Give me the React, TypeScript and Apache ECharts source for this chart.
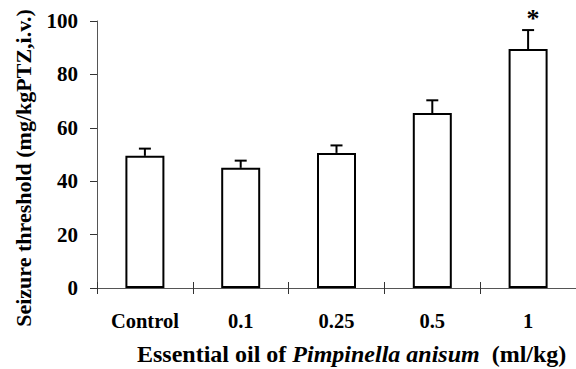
import React, { useEffect, useRef } from "react";
import * as echarts from "echarts";

const categories = ["Control", "0.1", "0.25", "0.5", "1"];
const means = [49.5, 45.0, 50.6, 65.5, 89.5];
const upperErrors = [52.2, 47.7, 53.4, 70.3, 96.6];
const significance = ["", "", "", "", "*"];
const yTicks = [0, 20, 40, 60, 80, 100];

const FONT = "'Liberation Serif', 'Times New Roman', serif";

export default function App() {
  const ref = useRef<HTMLDivElement>(null);
  useEffect(() => {
    if (!ref.current) return;
    const chart = echarts.init(ref.current, undefined, { renderer: "svg" });
    chart.setOption({
      animation: false,
      backgroundColor: "#ffffff",
      grid: { left: 97, top: 21, bottom: 81, width: 488, containLabel: false },
      xAxis: [
        {
          type: "category",
          data: categories,
          axisLine: { lineStyle: { color: "#555", width: 1 } },
          axisTick: { show: true, length: 6, lineStyle: { color: "#333" } },
          axisLabel: {
            color: "#000",
            fontFamily: FONT,
            fontWeight: "bold",
            fontSize: 20.5,
            margin: 22,
          },
        },
        {
          type: "category",
          data: categories,
          position: "bottom",
          axisLine: { show: false },
          axisTick: { show: true, inside: true, length: 6, lineStyle: { color: "#333" } },
          axisLabel: { show: false },
        },
      ],
      yAxis: {
        type: "value",
        min: yTicks[0],
        max: yTicks[yTicks.length - 1],
        interval: 20,
        splitLine: { show: false },
        axisLine: { show: true, lineStyle: { color: "#555", width: 1 } },
        axisTick: { show: true, length: 7, lineStyle: { color: "#333" } },
        axisLabel: {
          color: "#000",
          fontFamily: FONT,
          fontWeight: "bold",
          fontSize: 21,
          margin: 19,
        },
      },
      graphic: [
        {
          type: "text",
          x: 23,
          y: 168,
          rotation: Math.PI / 2,
          style: {
            text: "Seizure threshold (mg/kgPTZ,i.v.)",
            fontFamily: FONT,
            fontWeight: "bold",
            fontSize: 22,
            fill: "#000",
            align: "center",
            verticalAlign: "middle",
          },
        },
        {
          type: "text",
          left: 137,
          top: 342,
          style: {
            text: "{a|Essential oil of }{b|Pimpinella anisum}{a|  (ml/kg)}",
            rich: {
              a: { fontFamily: FONT, fontWeight: "bold", fontSize: 24, fill: "#000" },
              b: { fontFamily: FONT, fontWeight: "bold", fontStyle: "italic", fontSize: 24, fill: "#000" },
            },
          },
        },
      ],
      series: [
        {
          type: "bar",
          data: means,
          barWidth: 39,
          itemStyle: { color: "#ffffff", borderColor: "#000", borderWidth: 2 },
          z: 2,
        },
        {
          type: "custom",
          data: means.map((m, i) => [i, m, upperErrors[i]]),
          z: 3,
          renderItem: (params: any, api: any) => {
            const i = api.value(0);
            const top = api.coord([i, api.value(1)]);
            const up = api.coord([i, api.value(2)]);
            const children: any[] = [
              {
                type: "line",
                shape: { x1: top[0], y1: top[1], x2: up[0], y2: up[1] },
                style: { stroke: "#000", lineWidth: 2 },
              },
              {
                type: "line",
                shape: { x1: up[0] - 6, y1: up[1], x2: up[0] + 6, y2: up[1] },
                style: { stroke: "#000", lineWidth: 2 },
              },
            ];
            const sig = significance[params.dataIndex];
            if (sig) {
              children.push({
                type: "text",
                x: up[0] + 5,
                y: up[1] + 1,
                style: {
                  text: sig,
                  fontFamily: FONT,
                  fontWeight: "bold",
                  fontSize: 26,
                  fill: "#000",
                  align: "center",
                  verticalAlign: "bottom",
                },
              });
            }
            return { type: "group", children };
          },
        },
      ],
    });
    return () => chart.dispose();
  }, []);
  return <div ref={ref} style={{ width: 576, height: 369, position: "absolute", left: 0, top: 0 }} />;
}
